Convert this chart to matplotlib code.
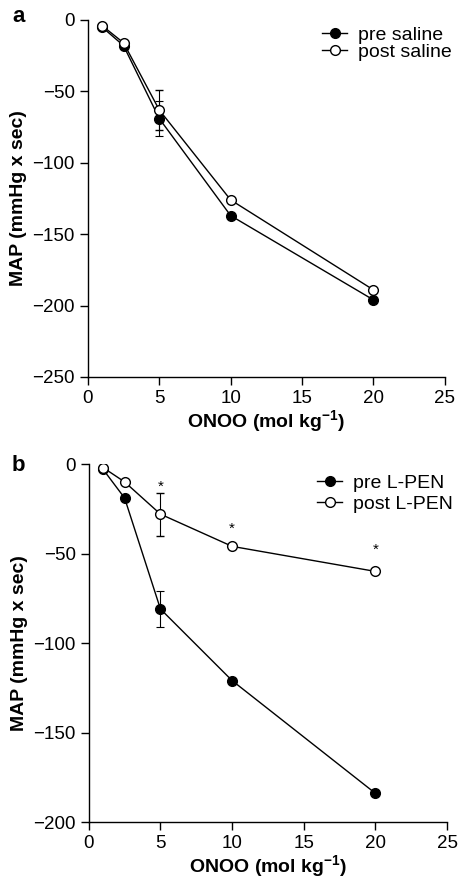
import matplotlib
matplotlib.use('Agg')
import matplotlib.pyplot as plt
from matplotlib.lines import Line2D

plt.rcParams['font.family'] = ['Liberation Sans', 'DejaVu Sans']

dose = [1, 2.5, 5, 10, 20]

# panel a: saline
pre_saline = [-5, -18, -69, -137, -196]
post_saline = [-4, -16, -63, -126, -189]
pre_saline_err = [0, 0, 12, 0, 0]
post_saline_err = [0, 0, 14, 0, 0]

# panel b: L-PEN
pre_lpen = [-3, -19, -81, -121, -184]
post_lpen = [-2, -10, -28, -46, -60]
pre_lpen_err = [0, 0, 10, 0, 0]
post_lpen_err = [0, 0, 12, 0, 0]
star_x = [5, 10, 20]
star_y = [-12.5, -36, -48]

xticks = [0, 5, 10, 15, 20, 25]
yticks_a = [0, -50, -100, -150, -200, -250]
yticks_b = [0, -50, -100, -150, -200]

fig = plt.figure(figsize=(4.6, 8.8), dpi=100)
ax_a = fig.add_axes([0.191, 0.5716, 0.776, 0.4057])
ax_b = fig.add_axes([0.193, 0.0659, 0.779, 0.4068])


def draw(ax, pre, post, pre_err, post_err, labels, yticks, letter, leg_xy, leg_sp):
    ax.errorbar(dose, pre, yerr=pre_err, color='black', lw=1.0, ecolor='black',
                elinewidth=0.8, capsize=3, capthick=0.8, marker='o', ms=7,
                mfc='black', mec='black', zorder=3)
    ax.errorbar(dose, post, yerr=post_err, color='black', lw=1.0, ecolor='black',
                elinewidth=0.8, capsize=3, capthick=0.8, marker='o', ms=7,
                mfc='white', mec='black', mew=1.0, zorder=4)
    ax.set_xlim(0, 25)
    ax.set_ylim(yticks[-1], 0)
    ax.set_xticks(xticks)
    ax.set_yticks(yticks)
    ax.set_yticklabels(['0' if v == 0 else '\u2212%d' % abs(v) for v in yticks])
    for s in ['top', 'right']:
        ax.spines[s].set_visible(False)
    for s in ['left', 'bottom']:
        ax.spines[s].set_linewidth(1.0)
    ax.tick_params(direction='out', length=5.8, width=1.0, labelsize=13.5, pad=3.5)
    ax.set_xlabel('ONOO (mol kg$^{\\mathregular{-1}}$)', fontsize=14, fontweight='bold', labelpad=1)
    ax.set_ylabel('MAP (mmHg x sec)', fontsize=14, fontweight='bold', labelpad=4)
    h = [Line2D([], [], color='black', lw=1.0, marker='o', ms=7, mfc='black', mec='black'),
         Line2D([], [], color='black', lw=1.0, marker='o', ms=7, mfc='white', mec='black')]
    ax.legend(h, labels, loc='center left', frameon=False, fontsize=14,
              handlelength=1.3, handletextpad=0.55, labelspacing=leg_sp,
              borderpad=0.0, borderaxespad=0.0,
              bbox_to_anchor=(leg_xy[0] / 460, 1 - leg_xy[1] / 880),
              bbox_transform=fig.transFigure)
    fig.text(12 / 460, 1 - leg_xy[2] / 880, letter, fontsize=16,
             fontweight='bold', va='center', ha='left')


draw(ax_a, pre_saline, post_saline, pre_saline_err, post_saline_err,
     ['pre saline', 'post saline'], yticks_a, 'a', (322, 43.5, 16), 0.0)
draw(ax_b, pre_lpen, post_lpen, pre_lpen_err, post_lpen_err,
     ['pre L-PEN', 'post L-PEN'], yticks_b, 'b', (317, 493.5, 465), 0.15)

for x, y in zip(star_x, star_y):
    ax_b.text(x, y, '*', ha='center', va='center', fontsize=11)

fig.savefig('out.png', dpi=100)
